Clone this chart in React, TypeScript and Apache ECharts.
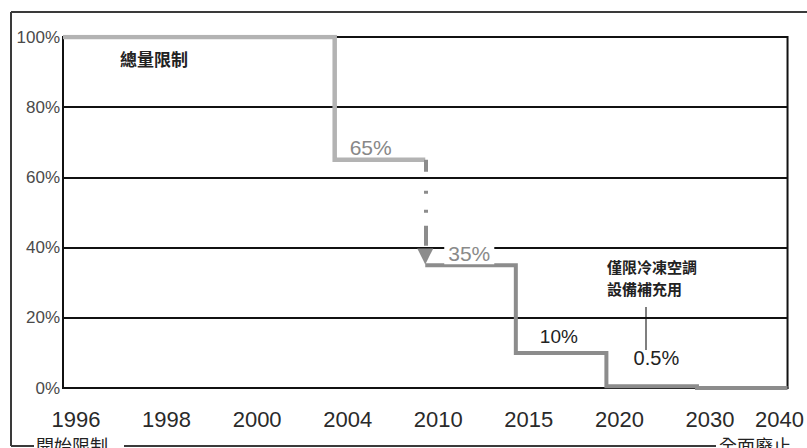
import React, { useEffect, useRef } from "react";
import * as echarts from "echarts";

// Phase-out schedule: years on the axis and the share of baseline allowed from each year on (%)
const years = ["1996", "1998", "2000", "2004", "2010", "2015", "2020", "2030", "2040"];
const allowance = [100, 100, 100, 65, 35, 10, 0.5, 0, 0];
const yTicks = { min: 0, max: 100, interval: 20 };

// Annotation texts
const capNote = "總量限制";
const servicingNote = ["僅限冷凍空調", "設備補充用"];
const startNote = "開始限制";
const endNote = "全面廢止";

const LIGHT = "#b3b3b3";
const MID = "#8c8c8c";
const INK = "#222222";
const CJK = '"Noto Sans CJK TC", "Noto Sans CJK SC", sans-serif';
const SANS = '"Liberation Sans", Arial, sans-serif';

// first phase: full cap, then 65% held until 2010
const earlyData: [string, number][] = years
  .slice(0, 4)
  .map((y, i) => [y, allowance[i]] as [string, number])
  .concat([[years[4], allowance[3]]]);
// later phase: 35% from 2010 down to zero
const lateData: [string, number][] = years.slice(4).map((y, i) => [y, allowance[i + 4]]);

const valueMark = (
  year: string,
  value: number,
  offset: [number, number],
  color: string,
  extra: Record<string, unknown> = {}
) => ({
  coord: [year, value],
  value,
  symbol: "circle",
  symbolSize: 1,
  itemStyle: { color: "rgba(0,0,0,0)" },
  label: {
    show: true,
    position: "inside",
    offset,
    formatter: "{c}%",
    color,
    fontSize: 21,
    fontFamily: SANS,
    ...extra,
  },
});

export default function App() {
  const ref = useRef<HTMLDivElement>(null);

  useEffect(() => {
    if (!ref.current) return;
    const chart = echarts.init(ref.current, undefined, { renderer: "svg" });
    chart.setOption({
      animation: false,
      backgroundColor: "#ffffff",
      grid: {
        left: 63,
        right: 17,
        top: 37,
        bottom: 60,
        show: true,
        borderColor: "#111111",
        borderWidth: 2,
        backgroundColor: "transparent",
      },
      xAxis: {
        type: "category",
        boundaryGap: false,
        data: years.map((y, i) =>
          i === years.length - 1 ? { value: y, textStyle: { padding: [0, 16, 0, 0] } } : y
        ),
        axisLine: { show: true, lineStyle: { color: "#111111", width: 2 } },
        axisTick: { show: false },
        splitLine: { show: false },
        axisLabel: {
          interval: 0,
          margin: 20,
          fontSize: 22,
          fontFamily: SANS,
          color: "#2a2a2a",
          padding: [0, 0, 0, 26],
        },
      },
      yAxis: {
        type: "value",
        min: yTicks.min,
        max: yTicks.max,
        interval: yTicks.interval,
        axisLine: { show: true, lineStyle: { color: "#111111", width: 2 } },
        axisTick: { show: false },
        splitLine: { show: true, lineStyle: { color: "#111111", width: 2 } },
        axisLabel: {
          formatter: "{value}%",
          margin: 3,
          fontSize: 17,
          fontFamily: SANS,
          color: "#4a4a4a",
          padding: [6, 0, 0, 0],
        },
      },
      series: [
        {
          type: "line",
          step: "end",
          data: earlyData,
          symbol: "none",
          lineStyle: { color: LIGHT, width: 4.5, cap: "butt", join: "miter" },
          silent: true,
          z: 3,
          markPoint: {
            silent: true,
            data: [valueMark(years[3], allowance[3], [36, -12], "#888888")],
          },
          markLine: {
            silent: true,
            symbol: ["none", "triangle"],
            symbolSize: 16,
            label: { show: false },
            lineStyle: {
              color: MID,
              width: 4,
              type: [12, 19, 3, 16, 3, 13, 20, 60],
              cap: "butt",
            },
            data: [[{ coord: [years[4], allowance[3]] }, { coord: [years[4], allowance[4] + 2.5] }]],
          },
        },
        {
          type: "line",
          step: "end",
          data: lateData,
          symbol: "none",
          lineStyle: { color: MID, width: 4, cap: "butt", join: "miter" },
          silent: true,
          z: 3,
          markPoint: {
            silent: true,
            data: [
              valueMark(years[4], allowance[4], [44, -12], "#8a8a8a", {
                backgroundColor: "#ffffff",
                padding: [1, 4, 0, 4],
              }),
              valueMark(years[5], allowance[5], [43, -16], INK, { fontSize: 19 }),
              valueMark(years[6], allowance[6], [50, -28], INK, { fontSize: 20 }),
            ],
          },
        },
      ],
      graphic: [
        // outer frame
        { type: "line", shape: { x1: 11, y1: 12, x2: 807, y2: 12 }, style: { stroke: "#3a3a3a", lineWidth: 2 } },
        { type: "line", shape: { x1: 11, y1: 12, x2: 11, y2: 446 }, style: { stroke: "#3a3a3a", lineWidth: 2 } },
        { type: "line", shape: { x1: 11, y1: 446, x2: 34, y2: 446 }, style: { stroke: "#3a3a3a", lineWidth: 2 } },
        { type: "line", shape: { x1: 124, y1: 446, x2: 716, y2: 446 }, style: { stroke: "#3a3a3a", lineWidth: 2 } },
        {
          type: "text",
          x: 36,
          y: 436,
          style: { text: startNote, fill: INK, fontSize: 18, fontFamily: CJK, verticalAlign: "top" },
        },
        {
          type: "text",
          x: 719,
          y: 436,
          style: { text: endNote, fill: INK, fontSize: 18, fontFamily: CJK, verticalAlign: "top" },
        },
        // notes inside the plot
        {
          type: "text",
          x: 120,
          y: 58,
          style: { text: capNote, fill: INK, fontSize: 17, fontFamily: CJK, verticalAlign: "middle", fontWeight: "bold" },
        },
        ...servicingNote.map((line, i) => ({
          type: "text",
          x: 607,
          y: 266 + i * 22,
          style: {
            text: line,
            fill: INK,
            fontSize: 15,
            fontFamily: CJK,
            fontWeight: "bold",
            verticalAlign: "middle",
          },
        })),
        { type: "line", shape: { x1: 646, y1: 307, x2: 646, y2: 350 }, style: { stroke: "#555555", lineWidth: 1.5 } },
      ],
    });
    return () => chart.dispose();
  }, []);

  return (
    <div
      ref={ref}
      style={{ position: "absolute", left: 0, top: 0, width: 807, height: 448, background: "#ffffff" }}
    />
  );
}
